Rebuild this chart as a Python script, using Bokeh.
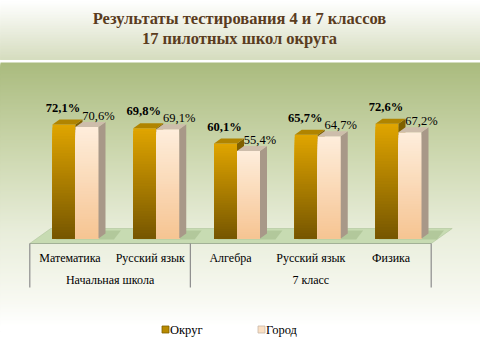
from bokeh.plotting import figure
from bokeh.models import Range1d
from bokeh.core.properties import value
from bokeh.embed import file_html
from bokeh.resources import INLINE

# ---------------- data ----------------
title_lines = ["Результаты тестирования 4 и 7 классов", "17 пилотных школ округа"]
categories = ["Математика", "Русский язык", "Алгебра", "Русский язык", "Физика"]
groups = ["Начальная школа", "7 класс"]
group_sizes = [2, 3]
series_names = ["Округ", "Город"]
okrug = [72.1, 69.8, 60.1, 65.7, 72.6]
gorod = [70.6, 69.1, 55.4, 64.7, 67.2]

# ---------------- layout helpers (reference pixel -> data) ----------------
PXX = 80.75   # px per category
PXY = 1.58    # px per percent
X0REF = 75.0  # ref x of first category centre
Y0REF = 238.0 # ref y of value 0
W, H = 480, 360
OX, OY = 0, 0

def X(rx):
    return (rx - X0REF) / PXX

def Y(ry):
    return (Y0REF - ry) / PXY

p = figure(width=W, height=H, output_backend="svg", toolbar_location=None,
           x_range=Range1d(X(OX), X(OX + W)), y_range=Range1d(Y(OY + H), Y(OY)),
           min_border=0)
p.axis.visible = False
p.grid.visible = False
p.outline_line_color = None
p.background_fill_color = "white"
p.border_fill_color = "white"

def lerp(c1, c2, t):
    return tuple(int(round(a + (b - a) * t)) for a, b in zip(c1, c2))

def hexc(c):
    return "#%02x%02x%02x" % c

def grad(stops, t):
    for (t0, c0), (t1, c1) in zip(stops[:-1], stops[1:]):
        if t <= t1:
            return lerp(c0, c1, (t - t0) / (t1 - t0) if t1 > t0 else 0)
    return stops[-1][1]

# ---------------- background ----------------
xl, xr = X(-5), X(490)
tops, cols = [], []
for ry in range(0, 59):
    tops.append(Y(ry))
    cols.append(hexc(grad([(0, (255, 255, 255)), (59, (213, 220, 190))], ry)))
p.quad(left=xl, right=xr, top=tops, bottom=Y(59), fill_color=cols, line_color=None)
bg_stops = [(62, (170, 187, 126)), (150, (204, 215, 174)), (230, (232, 237, 218)),
            (300, (248, 249, 242)), (325, (255, 255, 255)), (400, (255, 255, 255))]
tops, cols = [], []
for ry in range(62, 330):
    tops.append(Y(ry))
    cols.append(hexc(grad(bg_stops, ry)))
p.quad(left=xl, right=xr, top=tops, bottom=Y(331), fill_color=cols, line_color=None)

# ---------------- floor ----------------
FL, FR, FF, FB, FD = 29.3, 430.7, 243.0, 228.0, 21.0
p.patch([X(FL), X(FR), X(FR + FD), X(FL + FD)], [Y(FF), Y(FF), Y(FB), Y(FB)],
        fill_color="#c7dbb2", line_color="#b5c9a0", line_width=0.7)
p.line([X(FL), X(FR)], [Y(FF), Y(FF)], line_color="#9aa890", line_width=0.8)

# ---------------- bars ----------------
BW = 23.0 / PXX
DX = 7.0 / PXX
DY = 5.0 / PXY
N = 40
ok_stops = [(0, (118, 86, 0)), (1, (224, 165, 0))]
go_stops = [(0, (246, 196, 146)), (1, (254, 238, 220))]

def grad_bar(l, r, v, stops):
    tops, cols = [], []
    for k in range(N - 1, -1, -1):
        tops.append(v * (k + 1) / N)
        cols.append(hexc(grad(stops, (k + 0.5) / N)))
    p.quad(left=l, right=r, top=tops, bottom=0, fill_color=cols, line_color=None)

for i, (vo, vg) in enumerate(zip(okrug, gorod)):
    p.patch([i - BW + DX * 0.5, i + BW + DX * 2.2, i + BW + DX * 3.2, i - BW + DX * 1.5],
            [-0.6, -0.6, DY * 1.6, DY * 1.6], fill_color="#a9c191", fill_alpha=0.7,
            line_color=None)
    l, r = i - BW, i
    grad_bar(l, r, vo, ok_stops)
    p.patch([r, r + DX, r + DX, r], [0, DY, vo + DY, vo], fill_color="#7f6000", line_color=None)
    p.patch([l, r, r + DX, l + DX], [vo, vo, vo + DY, vo + DY], fill_color="#b08400", line_color=None)
    l, r = i, i + BW
    grad_bar(l, r, vg, go_stops)
    p.patch([r, r + DX, r + DX, r], [0, DY, vg + DY, vg], fill_color="#a89888", line_color=None)
    p.patch([l, r, r + DX, l + DX], [vg, vg, vg + DY, vg + DY], fill_color="#cdbdab", line_color=None)

# ---------------- value labels ----------------
FONT = value("Liberation Serif")
xs_o = [i - BW / 2 - 1.0 / PXX for i in range(len(okrug))]
ys_o = [v + 17.0 / PXY for v in okrug]
p.text(x=xs_o, y=ys_o, text=[("%.1f%%" % v).replace(".", ",") for v in okrug],
       text_font=FONT, text_font_size="12.5px", text_font_style="bold",
       text_color="black", text_align="center", text_baseline="middle")
xs_g = [i + BW / 2 + 11.5 / PXX for i in range(len(gorod))]
ys_g = [v + 11.0 / PXY for v in gorod]
p.text(x=xs_g, y=ys_g, text=[("%.1f%%" % v).replace(".", ",") for v in gorod],
       text_font=FONT, text_font_size="12.5px", text_color="black",
       text_align="center", text_baseline="middle")

# ---------------- category table ----------------
cell = (FR - FL) / len(categories)
bounds = [0] + [sum(group_sizes[:k + 1]) for k in range(len(group_sizes))]
vx = [X(FL + cell * b) for b in bounds]
p.segment(x0=vx, y0=Y(FF), x1=vx, y1=Y(287), line_color="#8c8c8c", line_width=1.2)
p.text(x=[X(FL + cell * (i + 0.5)) for i in range(len(categories))],
       y=Y(257), text=categories, text_font=FONT, text_font_size="12px",
       text_color="black", text_align="center", text_baseline="middle")
p.text(x=[X(FL + cell * (bounds[k] + bounds[k + 1]) / 2) for k in range(len(groups))],
       y=Y(279), text=groups, text_font=FONT, text_font_size="12px",
       text_color="black", text_align="center", text_baseline="middle")

# ---------------- title ----------------
p.text(x=X(239), y=[Y(18), Y(38)], text=title_lines, text_font=FONT,
       text_font_size="16.5px", text_font_style="bold", text_color="#5a3c1e",
       text_align="center", text_baseline="middle")

# ---------------- legend ----------------
leg_x = [165, 261]
p.rect(x=[X(leg_x[0])], y=Y(329), width=7, height=7, width_units="screen",
       height_units="screen", fill_color="#b88a00", line_color="#7f6000", line_width=0.8)
p.rect(x=[X(leg_x[1])], y=Y(329), width=7, height=7, width_units="screen",
       height_units="screen", fill_color="#fbe0c4", line_color="#c8b8a8", line_width=0.8)
p.text(x=[X(leg_x[0] + 4.5), X(leg_x[1] + 4.5)], y=Y(329), text=series_names,
       text_font=FONT, text_font_size="12.5px", text_color="black",
       text_align="left", text_baseline="middle")

open("out.html", "w").write(file_html(p, INLINE))
